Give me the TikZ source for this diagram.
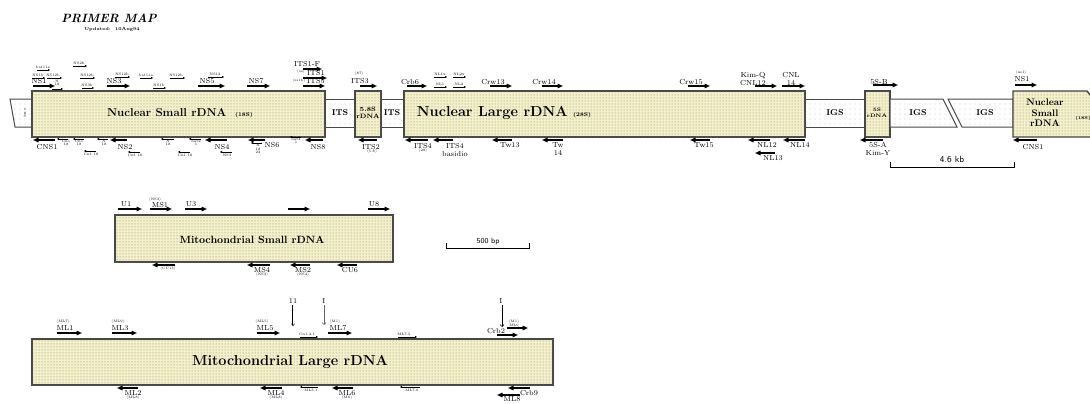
\documentclass[tikz,border=0pt]{standalone}
\usetikzlibrary{arrows.meta, patterns, patterns.meta}
\definecolor{rdnafill}{HTML}{F4F0C8}
\definecolor{boxline}{HTML}{484848}

\begin{document}
\begin{tikzpicture}[x=1pt, y=-1pt, every node/.style={align=center, inner sep=0pt},
  gene/.style={draw=boxline, line width=1.4pt, fill=rdnafill, postaction={pattern=dots, pattern color=black!50}},
  spacer/.style={draw=boxline, line width=1pt, fill=white, postaction={pattern={Dots[distance=5pt, radius=0.35pt]}, pattern color=black!55}},
  primer/.style={line width=1.6pt, -{Triangle[length=5.5pt, width=4.5pt]}},
  tprimer/.style={line width=0.7pt, -{Triangle[length=2pt, width=2pt]}},
  lab/.style={font=\fontsize{7.3}{7.3}\selectfont},
  tlab/.style={font=\fontsize{3.5}{3.5}\selectfont},
  big/.style={font=\bfseries\fontsize{11.5}{12}\selectfont}]
  \useasboundingbox (0,0) rectangle (1090,404);

  % --- Title ---
  \node[font=\bfseries\itshape\fontsize{12}{12}\selectfont] (title) at (109,18) {PRIMER MAP};
  \node[font=\bfseries\fontsize{4.3}{4.3}\selectfont] (upd) at (112,29) {Updated:\ \ 10Aug94};

  % --- Nuclear rDNA repeat ---
  \draw[spacer] (10,99) -- (32,99) -- (32,127) -- (15,127) -- cycle;
  \node[tlab] (n18s) at (25,113) {1\\8\\S};
  \draw[gene] (32,91) rectangle (325,137);
  \node[big] (nss) at (180,113) {Nuclear Small rDNA\ \ {\fontsize{5.5}{5.5}\selectfont (18S)}};
  \draw[spacer] (325,99) rectangle (355,127);
  \node[font=\bfseries\fontsize{8.5}{8.5}\selectfont] (its1) at (340,113) {ITS};
  \draw[gene] (355,91) rectangle (381,137);
  \node[font=\bfseries\fontsize{6.3}{7.5}\selectfont] (r58) at (368,113) {5.8S\\rDNA};
  \draw[spacer] (381,99) rectangle (404,127);
  \node[font=\bfseries\fontsize{8.5}{8.5}\selectfont] (its2) at (392,113) {ITS};
  \draw[gene] (404,91) rectangle (805,137);
  \node[font=\bfseries\fontsize{14.5}{14.5}\selectfont] (nls) at (504,113) {Nuclear Large rDNA\ {\fontsize{5.5}{5.5}\selectfont (28S)}};
  \draw[spacer] (805,99) rectangle (865,127);
  \node[font=\bfseries\fontsize{8.5}{8.5}\selectfont] (igs1) at (835,113) {IGS};
  \draw[gene] (865,91) rectangle (890,137);
  \node[font=\bfseries\fontsize{5}{6}\selectfont] (r5s) at (877,113) {5S\\rDNA};
  \draw[spacer] (890,99) -- (943,99) -- (957,127) -- (890,127) -- cycle;
  \node[font=\bfseries\fontsize{8.5}{8.5}\selectfont] (igs2) at (918,113) {IGS};
  \draw[spacer] (948,99) -- (1013,99) -- (1013,127) -- (962,127) -- cycle;
  \node[font=\bfseries\fontsize{8.5}{8.5}\selectfont] (igs3) at (985,113) {IGS};
  \fill[rdnafill, postaction={pattern=dots, pattern color=black!50}] (1013,91) -- (1087,91) -- (1090,95) -- (1090,137) -- (1013,137) -- cycle;
  \draw[draw=boxline, line width=1.4pt] (1090,137) -- (1013,137) -- (1013,91) -- (1087,91) -- (1090,95);
  \node[font=\bfseries\fontsize{9.5}{10.5}\selectfont] (nss2) at (1045,113) {Nuclear\\Small\\rDNA};
  \node[font=\bfseries\fontsize{4.3}{4.3}\selectfont] (nss2s) at (1083,118) {(18S)};

  % scale bar
  \draw[line width=0.6pt] (890,162) -- (890,167) -- (1014,167) -- (1014,162);
  \node[font=\sffamily\fontsize{9}{9}\selectfont] (kb) at (952,159) {4.6 kb};

  % --- Nuclear forward primers ---
  \draw[primer] (33,86) -- (55,86);   \node[lab] (pNS1) at (39,81) {NS1};
  \draw[primer] (107,86) -- (130,86); \node[lab] (pNS3) at (114,81) {NS3};
  \draw[primer] (198,86) -- (225,86); \node[lab] (pNS5) at (207,81) {NS5};
  \draw[primer] (247,86) -- (270,86); \node[lab] (pNS7) at (256,81) {NS7};
  \draw[primer] (303,69) -- (322,69); \node[lab] (pITS1F) at (307,64) {ITS1-F};
  \draw[primer] (303,78) -- (327,78); \node[lab] (pITS1) at (316,73) {ITS1};
  \node[tlab] (pITS1s) at (301,72) {(ss)};
  \draw[primer] (303,86) -- (325,86); \node[lab] (pITS5) at (316,81) {ITS5};
  \node[tlab] (pITS5s) at (299,81) {(ss16)};
  \draw[primer] (360,86) -- (377,86); \node[lab] (pITS3) at (360,81) {ITS3};
  \node[tlab] (pITS3s) at (359,74) {(87)};
  \draw[primer] (407,86) -- (427,86); \node[lab] (pCrb6) at (410,82) {Crb6};
  \draw[primer] (490,86) -- (512,86); \node[lab] (pCrw13) at (493,82) {Crw13};
  \draw[primer] (542,86) -- (563,86); \node[lab] (pCrw14) at (544,82) {Crw14};
  \draw[primer] (688,86) -- (710,86); \node[lab] (pCrw15) at (691,82) {Crw15};
  \draw[primer] (755,86) -- (777,86); \node[lab] (pCNL12) at (753,79) {Kim-Q\\CNL12};
  \draw[primer] (782,86) -- (805,86); \node[lab] (pCNL14) at (791,79) {CNL\\14};
  \draw[primer] (873,85) -- (898,85); \node[lab] (p5SB) at (879,82) {5S-B};
  \draw[primer] (1015,85) -- (1037,85); \node[lab] (pNS1b) at (1022,79) {NS1};
  \node[tlab] (pNS1bs) at (1021,73) {(ns1)};

  % small forward primers
  \draw[tprimer] (37,70) -- (50,70);   \node[tlab] (t1) at (43,67) {bat11a};
  \draw[tprimer] (73,66) -- (87,66);   \node[tlab] (t2) at (79,63) {NS2b};
  \draw[tprimer] (32,78) -- (45,78);   \node[tlab] (t3) at (38,75) {NS1b};
  \draw[tprimer] (47,78) -- (62,78);   \node[tlab] (t4) at (53,75) {NS12b};
  \draw[tprimer] (80,78) -- (95,78);   \node[tlab] (t5) at (87,75) {NS12b};
  \draw[tprimer] (115,77) -- (130,77); \node[tlab] (t6) at (122,74) {NS12b};
  \draw[tprimer] (140,78) -- (153,78); \node[tlab] (t7) at (146,75) {bat11a};
  \draw[tprimer] (170,78) -- (185,78); \node[tlab] (t8) at (176,75) {NS12b};
  \draw[tprimer] (82,88) -- (94,88);   \node[tlab] (t9) at (87,85) {NS3b};
  \draw[tprimer] (153,88) -- (166,88); \node[tlab] (t10) at (159,85) {NS1b};
  \draw[tprimer] (52,89) -- (63,89);   \node[tlab] (t11) at (57,83) {N\\18};
  \draw[tprimer] (208,77) -- (224,77); \node[tlab] (t12) at (215,74) {NS12};
  \draw[tprimer] (434,77) -- (447,77); \node[tlab] (t13) at (440,74) {NL1x};
  \draw[tprimer] (453,77) -- (466,77); \node[tlab] (t14) at (459,74) {NL2x};
  \draw[tprimer] (434,87) -- (447,87); \node[tlab] (t15) at (440,84) {NL1};
  \draw[tprimer] (453,87) -- (466,87); \node[tlab] (t16) at (459,84) {NL2};

  % --- Nuclear reverse primers ---
  \draw[primer] (55,140) -- (33,140);   \node[lab] (pCNS1) at (47,147) {CNS1};
  \draw[primer] (127,140) -- (110,140); \node[lab] (pNS2) at (125,147) {NS2};
  \draw[primer] (227,140) -- (205,140); \node[lab] (pNS4) at (222,147) {NS4};
  \draw[primer] (265,140) -- (248,140); \node[lab] (pNS6) at (272,145) {NS6};
  \draw[primer] (323,140) -- (305,140); \node[lab] (pNS8) at (318,147) {NS8};
  \draw[primer] (377,140) -- (358,140); \node[lab] (pITS2) at (371,147) {ITS2};
  \node[tlab] (pITS2s) at (372,152) {(5.8)};
  \draw[primer] (428,140) -- (405,140); \node[lab] (pITS4) at (423,146) {ITS4};
  \node[tlab] (pITS4s) at (423,151) {(28)};
  \draw[primer] (453,140) -- (433,140); \node[lab] (pITS4b) at (455,150) {ITS4\\basidio};
  \draw[primer] (512,140) -- (492,140); \node[lab] (pTw13) at (510,145) {Tw13};
  \draw[primer] (563,140) -- (542,140); \node[lab] (pTw14) at (558,149) {Tw\\14};
  \draw[primer] (710,140) -- (690,140); \node[lab] (pTw15) at (704,145) {Tw15};
  \draw[primer] (770,140) -- (748,140); \node[lab] (pNL12) at (767,145) {NL12};
  \draw[primer] (775,153) -- (755,153); \node[lab] (pNL13) at (773,158) {NL13};
  \draw[primer] (805,140) -- (783,140); \node[lab] (pNL14) at (800,145) {NL14};
  \draw[primer] (883,140) -- (860,140); \node[lab] (p5SA) at (878,149) {5S-A\\Kim-Y};
  \draw[primer] (1037,140) -- (1013,140); \node[lab] (pCNS1b) at (1033,147) {CNS1};

  % small reverse primers
  \draw[tprimer] (68,139) -- (57,139);   \node[tlab] (b1) at (66,143) {Cn1\\18};
  \draw[tprimer] (84,139) -- (73,139);   \node[tlab] (b2) at (79,143) {Cn1\\18};
  \draw[tprimer] (96,151) -- (84,151);   \node[tlab] (b3) at (91,154) {Cn1.18};
  \draw[tprimer] (108,139) -- (97,139);  \node[tlab] (b4) at (104,143) {N\\18};
  \draw[tprimer] (140,152) -- (128,152); \node[tlab] (b5) at (135,155) {Cn1.18};
  \draw[tprimer] (174,139) -- (161,139); \node[tlab] (b6) at (168,143) {N\\18};
  \draw[tprimer] (190,152) -- (178,152); \node[tlab] (b7) at (185,155) {Cn1.18};
  \draw[tprimer] (201,139) -- (189,139); \node[tlab] (b8) at (196,143) {bat2\\1};
  \draw[tprimer] (232,152) -- (220,152); \node[tlab] (b9) at (227,155) {NS3};
  \draw[tprimer] (262,143) -- (251,143); \node[tlab] (b10) at (258,149) {N\\18\\22};
  \draw[tprimer] (301,137) -- (290,137); \node[tlab] (b11) at (296,141) {bat4\\1};

  % --- Mitochondrial Small rDNA ---
  \draw[gene] (115,215) rectangle (393,262);
  \node[font=\bfseries\fontsize{10.5}{11}\selectfont] (mss) at (252,240) {Mitochondrial Small rDNA};
  \draw[primer] (118,209) -- (142,209); \node[lab] (pU1) at (126,204) {U1};
  \draw[primer] (150,209) -- (172,209); \node[lab] (pMS1) at (160,205) {MS1};
  \node[tlab] (pMS1s) at (155,200) {(NS3)};
  \draw[primer] (185,209) -- (207,209); \node[lab] (pU3) at (191,204) {U3};
  \draw[primer] (288,209) -- (310,209);
  \draw[primer] (368,209) -- (390,209); \node[lab] (pU8) at (374,204) {U8};
  \draw[primer] (175,265) -- (152,265); \node[tlab] (pCU13) at (168,269) {(CU13)};
  \draw[primer] (270,265) -- (247,265); \node[lab] (pMS4) at (262,270) {MS4};
  \node[tlab] (pMS4s) at (262,275) {(NS3)};
  \draw[primer] (310,265) -- (290,265); \node[lab] (pMS2) at (303,270) {MS2};
  \node[tlab] (pMS2s) at (303,275) {(NS4)};
  \draw[primer] (357,265) -- (337,265); \node[lab] (pCU6) at (350,270) {CU6};

  % scale bar
  \draw[line width=0.6pt] (446,243) -- (446,248) -- (529,248) -- (529,243);
  \node[font=\sffamily\fontsize{7.5}{7.5}\selectfont] (bp) at (488,242) {500 bp};

  % --- Mitochondrial Large rDNA ---
  \draw[gene] (32,339) rectangle (553,385);
  \node[font=\bfseries\fontsize{14.5}{14.5}\selectfont] (mls) at (290,362) {Mitochondrial Large rDNA};
  \draw[primer] (57,333) -- (82,333);   \node[lab] (pML1) at (65,328) {ML1};
  \node[tlab] (pML1s) at (63,322) {(ML7)};
  \draw[primer] (112,333) -- (137,333); \node[lab] (pML3) at (120,328) {ML3};
  \node[tlab] (pML3s) at (118,322) {(ML9)};
  \draw[primer] (257,333) -- (280,333); \node[lab] (pML5) at (265,328) {ML5};
  \node[tlab] (pML5s) at (262,322) {(ML5)};
  \draw[tprimer] (300,337) -- (318,337); \node[tlab] (pCn141) at (307,334) {Cn1.4.1};
  \draw[primer] (328,333) -- (352,333); \node[lab] (pML7) at (338,328) {ML7};
  \node[tlab] (pML7s) at (335,322) {(M1)};
  \draw[tprimer] (398,337) -- (417,337); \node[tlab] (pML75) at (404,334) {ML7.5};
  \draw[primer] (497,335) -- (518,335); \node[lab] (pCrb2) at (496,331) {Crb2};
  \draw[primer] (507,328) -- (528,328); \node[tlab] (pML9) at (514,323) {(M1)\\ML9};
  % sites
  \node[lab] (s11) at (293,301) {11};
  \draw[double, line width=0.5pt, -{Implies}] (293,305) -- (293,326);
  \node[lab] (s1a) at (324,301) {I};
  \draw[black!60, line width=0.6pt, -{Straight Barb[length=2pt]}] (324,305) -- (324,325);
  \node[lab] (s1b) at (501,301) {I};
  \draw[line width=0.6pt, -{Straight Barb[length=2pt]}] (502,305) -- (502,327);
  % reverse
  \draw[primer] (138,388) -- (117,388); \node[lab] (pML2) at (133,393) {ML2};
  \node[tlab] (pML2s) at (133,398) {(ML8)};
  \draw[primer] (282,388) -- (260,388); \node[lab] (pML4) at (276,393) {ML4};
  \node[tlab] (pML4s) at (276,398) {(ML8)};
  \draw[tprimer] (318,387) -- (300,387); \node[tlab] (pML31) at (311,390) {ML3.1};
  \draw[primer] (353,388) -- (332,388); \node[lab] (pML6) at (347,393) {ML6};
  \node[tlab] (pML6s) at (347,398) {(M6)};
  \draw[tprimer] (420,387) -- (400,387); \node[tlab] (pML76) at (412,390) {ML7.6};
  \draw[primer] (530,388) -- (508,388); \node[lab] (pCrb9) at (529,393) {Crb9};
  \draw[primer] (520,395) -- (497,395); \node[lab] (pML8) at (512,399) {ML8};
\end{tikzpicture}
\end{document}
